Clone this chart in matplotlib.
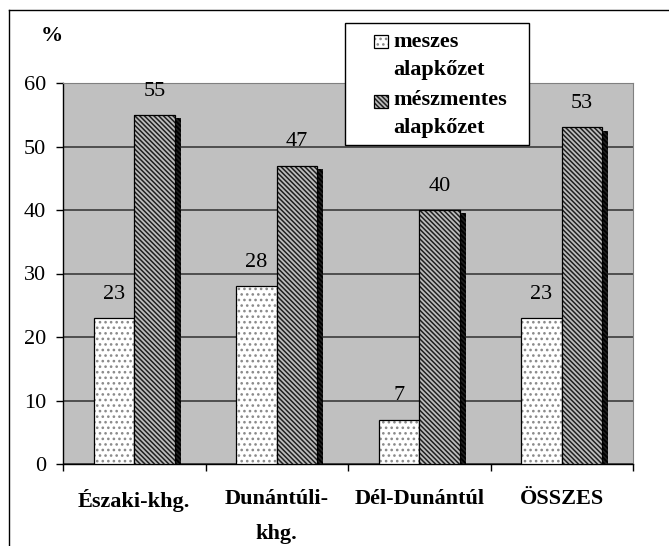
import matplotlib
matplotlib.use("Agg")
import matplotlib.pyplot as plt
import matplotlib.patheffects as pe
from matplotlib.patches import Rectangle
from matplotlib.lines import Line2D
import numpy as np

categories = ["Északi-khg.", "Dunántúli-\nkhg.", "Dél-Dunántúl", "ÖSSZES"]
meszes = [23, 28, 7, 23]
meszmentes = [55, 47, 40, 53]
series_labels = [("meszes", "alapkőzet"), ("mészmentes", "alapkőzet")]
yticks = [0, 10, 20, 30, 40, 50, 60]

plt.rcParams["font.family"] = ["Liberation Serif", "DejaVu Serif"]
plt.rcParams["hatch.linewidth"] = 1.1

W, H = 669, 546
fig = plt.figure(figsize=(W / 100, H / 100), dpi=100)
ax = fig.add_axes([63 / W, 1 - 464 / H, 570 / W, 381 / H])
ax.set_facecolor("#c0c0c0")

x = np.arange(len(categories))
bw = 0.284
dark_face = "#bdbdbd"
dark_hatch = "\\" * 7

# light bars: grey dot texture, then black outline
ax.bar(x - bw / 2, meszes, bw, color="white", edgecolor="#8a8a8a",
       linewidth=0, hatch="...", zorder=3)
ax.bar(x - bw / 2, meszes, bw, fill=False, edgecolor="black",
       linewidth=0.9, zorder=3.1)

# dark bars: fine diagonal texture with a drop shadow
dark = ax.bar(x + bw / 2, meszmentes, bw, color=dark_face, edgecolor="#202020",
              linewidth=0, hatch=dark_hatch, zorder=4)
for p in dark:
    p.set_path_effects([pe.SimplePatchShadow(offset=(4.3, -2.5),
                                             shadow_rgbFace="black", alpha=1.0),
                        pe.Normal()])
ax.bar(x + bw / 2, meszmentes, bw, fill=False, edgecolor="black",
       linewidth=0.9, zorder=4.1)

for xi, v in zip(x - bw / 2, meszes):
    ax.annotate(f"{v}", (xi, v), xytext=(0, 17), textcoords="offset points",
                ha="center", va="center", fontsize=16, zorder=6)
for xi, v in zip(x + bw / 2, meszmentes):
    ax.annotate(f"{v}", (xi, v), xytext=(0, 17), textcoords="offset points",
                ha="center", va="center", fontsize=16, zorder=6)

ax.set_xlim(-0.5, len(categories) - 0.5)
ax.set_ylim(0, 60)
ax.set_yticks(yticks)
ax.set_yticklabels([str(t) for t in yticks], fontsize=16)
ax.tick_params(axis="y", length=5, width=1, pad=7, direction="out")

ax.set_xticks(x)
ax.set_xticklabels(categories, fontsize=16, fontweight="bold", linespacing=2.0)
ax.set_xticks(np.arange(len(categories) + 1) - 0.5, minor=True)
ax.tick_params(axis="x", which="major", length=0, pad=18)
ax.tick_params(axis="x", which="minor", length=5, width=1, direction="out")

ax.yaxis.grid(True, color="#303030", linewidth=1.1, zorder=1)
ax.set_axisbelow(True)
ax.spines["left"].set_color("black")
ax.spines["bottom"].set_color("black")
ax.spines["left"].set_linewidth(1)
ax.spines["bottom"].set_linewidth(1)
ax.spines["top"].set_color("#808080")
ax.spines["right"].set_color("#808080")

fig.text(52 / W, 1 - 36 / H, "%", fontsize=16, fontweight="bold",
         ha="center", va="center")

# legend box
fig.patches.append(Rectangle((345 / W, 1 - 145 / H), 184 / W, 122 / H,
                             transform=fig.transFigure, facecolor="white",
                             edgecolor="black", linewidth=1, zorder=10))
fig.patches.append(Rectangle((374 / W, 1 - 48 / H), 14 / W, 13 / H,
                             transform=fig.transFigure, facecolor="white",
                             edgecolor="#8a8a8a", linewidth=0, hatch="...",
                             zorder=11))
fig.patches.append(Rectangle((374 / W, 1 - 48 / H), 14 / W, 13 / H,
                             transform=fig.transFigure, fill=False,
                             edgecolor="black", linewidth=0.9, zorder=11.1))
fig.patches.append(Rectangle((374 / W, 1 - 108 / H), 14 / W, 13 / H,
                             transform=fig.transFigure, facecolor=dark_face,
                             edgecolor="#202020", linewidth=0, hatch=dark_hatch,
                             zorder=11))
fig.patches.append(Rectangle((374 / W, 1 - 108 / H), 14 / W, 13 / H,
                             transform=fig.transFigure, fill=False,
                             edgecolor="black", linewidth=0.9, zorder=11.1))
for (l1, l2), y1, y2 in zip(series_labels, (42, 100), (70, 128)):
    fig.text(393 / W, 1 - y1 / H, l1, fontsize=16, fontweight="bold",
             ha="left", va="center", zorder=12)
    fig.text(393 / W, 1 - y2 / H, l2, fontsize=16, fontweight="bold",
             ha="left", va="center", zorder=12)

# outer frame
fig.add_artist(Line2D([9 / W, 9 / W], [0, 1 - 10 / H], color="black",
                      linewidth=1, transform=fig.transFigure))
fig.add_artist(Line2D([9 / W, 1], [1 - 10 / H, 1 - 10 / H], color="black",
                      linewidth=1, transform=fig.transFigure))

fig.savefig("out.png", dpi=100)
